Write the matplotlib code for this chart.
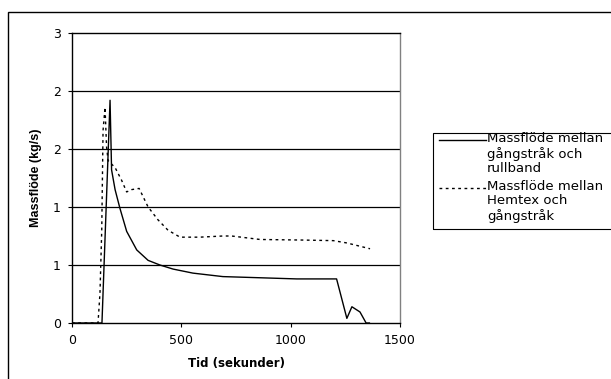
import matplotlib
matplotlib.use("Agg")
import matplotlib.pyplot as plt
from matplotlib.patches import Rectangle
from matplotlib.lines import Line2D

plt.rcParams['font.family'] = ['DejaVu Sans']

W, H = 611, 379

# Massflöde mellan gångstråk och rullband
t_solid = [0, 137, 174, 181, 197, 219, 250, 296, 348, 402, 462, 553, 690, 860,
           1028, 1210, 1257, 1280, 1317, 1345, 1360]
v_solid = [0, 0, 1.92, 1.32, 1.15, 0.99, 0.79, 0.63, 0.54, 0.50, 0.465, 0.43,
           0.40, 0.39, 0.38, 0.38, 0.04, 0.14, 0.095, 0.0, 0.0]

# Massflöde mellan Hemtex och gångstråk
t_dot = [0, 119, 128, 136, 142, 151, 158, 165, 197, 227, 250, 273, 307, 348,
         393, 439, 494, 539, 585, 690, 730, 860, 1057, 1195, 1257, 1363]
v_dot = [0, 0.0, 0.26, 0.80, 1.66, 1.86, 1.52, 1.40, 1.34, 1.23, 1.13, 1.15,
         1.16, 1.00, 0.89, 0.80, 0.74, 0.74, 0.74, 0.75, 0.75, 0.72, 0.715,
         0.71, 0.69, 0.64]

labels = ['Massflöde mellan\ngångstråk och\nrullband',
          'Massflöde mellan\nHemtex och\ngångstråk']
styles = ['-', (0, (2, 2.5))]

yticks = [0, 0.5, 1.0, 1.5, 2.0, 2.5]
ytick_labels = ['0', '1', '1', '2', '2', '3']
xticks = [0, 500, 1000, 1500]


def fx(px):
    return px / W


def fy(py):
    return 1 - py / H


fig = plt.figure(figsize=(W / 100, H / 100), dpi=100)
ax = fig.add_axes([fx(72), fy(323), 328 / W, 290 / H])

ax.plot(t_solid, v_solid, color='black', lw=1.0, linestyle=styles[0])
ax.plot(t_dot, v_dot, color='black', lw=1.0, linestyle=styles[1])

ax.set_xlim(0, 1500)
ax.set_ylim(0, 2.5)
ax.set_xticks(xticks)
ax.set_yticks(yticks)
ax.set_yticklabels(ytick_labels)
ax.tick_params(labelsize=9, direction='out', length=3, width=0.8, pad=5)

for y in yticks[1:-1]:
    ax.axhline(y, color='black', lw=0.9, zorder=0)

ax.spines['top'].set_color('black')
ax.spines['right'].set_color('#808080')
for s in ax.spines.values():
    s.set_linewidth(1.0)

ax.set_xlabel('Tid (sekunder)', fontsize=8.5, fontweight='bold', labelpad=7)
ax.set_ylabel('Massflöde (kg/s)', fontsize=9, fontweight='bold',
              family='Liberation Sans', labelpad=8)

# legend box, Excel style (handle aligned with first text line)
fig.patches.append(Rectangle((fx(433), fy(229)), fx(640) - fx(433),
                             fy(133) - fy(229), transform=fig.transFigure,
                             fill=False, edgecolor='black', lw=0.8))
for i, (lab, ls) in enumerate(zip(labels, styles)):
    y0 = 140 + i * 48
    fig.lines.append(Line2D([fx(439), fx(486)], [fy(y0), fy(y0)],
                            transform=fig.transFigure, color='black',
                            lw=1.0, linestyle=ls))
    fig.text(fx(487), fy(y0 - 7.5), lab, fontsize=9.5, va='top', ha='left',
             linespacing=1.1)

# outer chart border
fig.patches.append(Rectangle((fx(8), -0.05), 1.0, fy(12) + 0.05,
                             transform=fig.transFigure, fill=False,
                             edgecolor='black', lw=1.0))

fig.savefig('out.png', dpi=100)
